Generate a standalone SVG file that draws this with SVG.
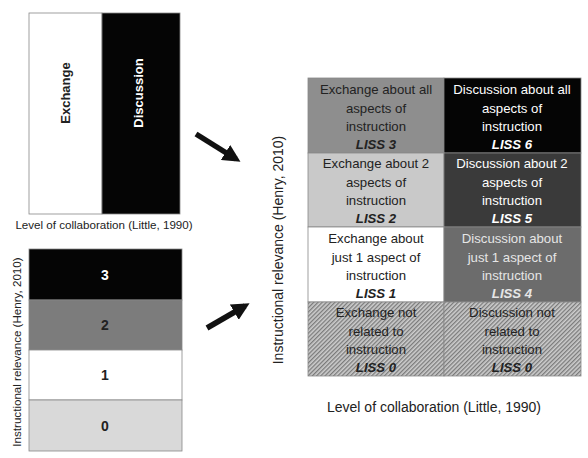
<svg xmlns="http://www.w3.org/2000/svg" width="588" height="458" viewBox="0 0 588 458">
  <defs>
    <pattern id="hatch" width="3" height="3" patternUnits="userSpaceOnUse" patternTransform="rotate(45)">
      <rect width="3" height="3" fill="#cdcdcd"/>
      <rect width="1.3" height="3" fill="#7a7a7a"/>
    </pattern>
    <marker id="head" viewBox="0 0 10 10" refX="7" refY="5" markerWidth="3.2" markerHeight="3.2" orient="auto" markerUnits="strokeWidth">
      <path d="M0,0 L10,5 L0,10 Z" fill="#111"/>
    </marker>
  </defs>
  <style>
    text { font-family: "Liberation Sans", Arial, sans-serif; }
    .cell { font-size: 13.2px; text-anchor: middle; }
    .dk { fill: #222; }
    .lt { fill: #fff; }
    .liss { font-style: italic; font-weight: bold; }
    .num { font-size: 14px; font-weight: bold; text-anchor: middle; }
    .axis { font-size: 11.6px; fill: #222; text-anchor: middle; }
    .axisR { font-size: 14px; fill: #222; text-anchor: middle; }
    .edge { stroke: #888; stroke-width: 0.8; }
    .arrow { stroke: #111; stroke-width: 5.5; fill: none; marker-end: url(#head); }
  </style>

  <rect width="588" height="458" fill="#fff"/>

  <!-- Collaboration columns -->
  <g id="collab-box">
    <rect x="29" y="13" width="73" height="201" fill="#fff" class="edge"/>
    <rect x="102" y="13" width="78" height="201" fill="#050505" class="edge"/>
    <text transform="translate(70,93) rotate(-90)" font-size="13" font-weight="bold" fill="#222" text-anchor="middle">Exchange</text>
    <text transform="translate(143,93) rotate(-90)" font-size="13" font-weight="bold" fill="#fff" text-anchor="middle">Discussion</text>
    <text x="104" y="229" class="axis">Level of collaboration (Little, 1990)</text>
  </g>

  <!-- Relevance bands -->
  <g id="relevance-box">
    <rect x="29" y="249" width="153" height="51" fill="#050505" class="edge"/>
    <rect x="29" y="300" width="153" height="50" fill="#7c7c7c" class="edge"/>
    <rect x="29" y="350" width="153" height="50" fill="#fff" class="edge"/>
    <rect x="29" y="400" width="153" height="51" fill="#d9d9d9" class="edge"/>
    <text x="105" y="280" class="num" fill="#fff">3</text>
    <text x="105" y="330" class="num" fill="#222">2</text>
    <text x="105" y="380" class="num" fill="#222">1</text>
    <text x="105" y="431" class="num" fill="#222">0</text>
    <text transform="translate(21,352) rotate(-90)" class="axis">Instructional relevance (Henry, 2010)</text>
  </g>

  <!-- Connectors -->
  <g id="connectors">
    <line x1="196" y1="134" x2="236" y2="159" class="arrow"/>
    <line x1="207" y1="328" x2="245" y2="306" class="arrow"/>
  </g>

  <!-- LISS grid -->
  <g id="liss-grid">
    <rect x="308" y="78" width="136" height="75" fill="#8e8e8e" class="edge"/>
    <rect x="444" y="78" width="137" height="75" fill="#050505" class="edge"/>
    <rect x="308" y="153" width="136" height="74" fill="#c9c9c9" class="edge"/>
    <rect x="444" y="153" width="137" height="74" fill="#3a3a3a" class="edge"/>
    <rect x="308" y="227" width="136" height="75" fill="#fff" class="edge"/>
    <rect x="444" y="227" width="137" height="75" fill="#6c6c6c" class="edge"/>
    <rect x="308" y="302" width="136" height="74" fill="url(#hatch)" class="edge"/>
    <rect x="444" y="302" width="137" height="74" fill="url(#hatch)" class="edge"/>
  </g>

  <g id="liss3">
    <text class="cell dk" x="376" y="94">Exchange about all</text>
    <text class="cell dk" x="376" y="113">aspects of</text>
    <text class="cell dk" x="376" y="131">instruction</text>
    <text class="cell dk liss" x="376" y="149">LISS 3</text>
  </g>
  <g id="liss6">
    <text class="cell lt" x="512" y="94">Discussion about all</text>
    <text class="cell lt" x="512" y="113">aspects of</text>
    <text class="cell lt" x="512" y="131">instruction</text>
    <text class="cell lt liss" x="512" y="149">LISS 6</text>
  </g>
  <g id="liss2">
    <text class="cell dk" x="376" y="168">Exchange about 2</text>
    <text class="cell dk" x="376" y="187">aspects of</text>
    <text class="cell dk" x="376" y="205">instruction</text>
    <text class="cell dk liss" x="376" y="223">LISS 2</text>
  </g>
  <g id="liss5">
    <text class="cell lt" x="512" y="168">Discussion about 2</text>
    <text class="cell lt" x="512" y="187">aspects of</text>
    <text class="cell lt" x="512" y="205">instruction</text>
    <text class="cell lt liss" x="512" y="223">LISS 5</text>
  </g>
  <g id="liss1">
    <text class="cell dk" x="376" y="243">Exchange about</text>
    <text class="cell dk" x="376" y="262">just 1 aspect of</text>
    <text class="cell dk" x="376" y="280">instruction</text>
    <text class="cell dk liss" x="376" y="298">LISS 1</text>
  </g>
  <g id="liss4">
    <text class="cell" fill="#e6e6e6" x="512" y="243">Discussion about</text>
    <text class="cell" fill="#e6e6e6" x="512" y="262">just 1 aspect of</text>
    <text class="cell" fill="#e6e6e6" x="512" y="280">instruction</text>
    <text class="cell liss" fill="#e6e6e6" x="512" y="298">LISS 4</text>
  </g>
  <g id="liss0-exchange">
    <text class="cell dk" x="376" y="317">Exchange not</text>
    <text class="cell dk" x="376" y="336">related to</text>
    <text class="cell dk" x="376" y="354">instruction</text>
    <text class="cell dk liss" x="376" y="372">LISS 0</text>
  </g>
  <g id="liss0-discussion">
    <text class="cell dk" x="512" y="317">Discussion not</text>
    <text class="cell dk" x="512" y="336">related to</text>
    <text class="cell dk" x="512" y="354">instruction</text>
    <text class="cell dk liss" x="512" y="372">LISS 0</text>
  </g>

  <text transform="translate(283,250) rotate(-90)" class="axisR">Instructional relevance (Henry, 2010)</text>
  <text x="434" y="412" class="axisR">Level of collaboration (Little, 1990)</text>
</svg>
